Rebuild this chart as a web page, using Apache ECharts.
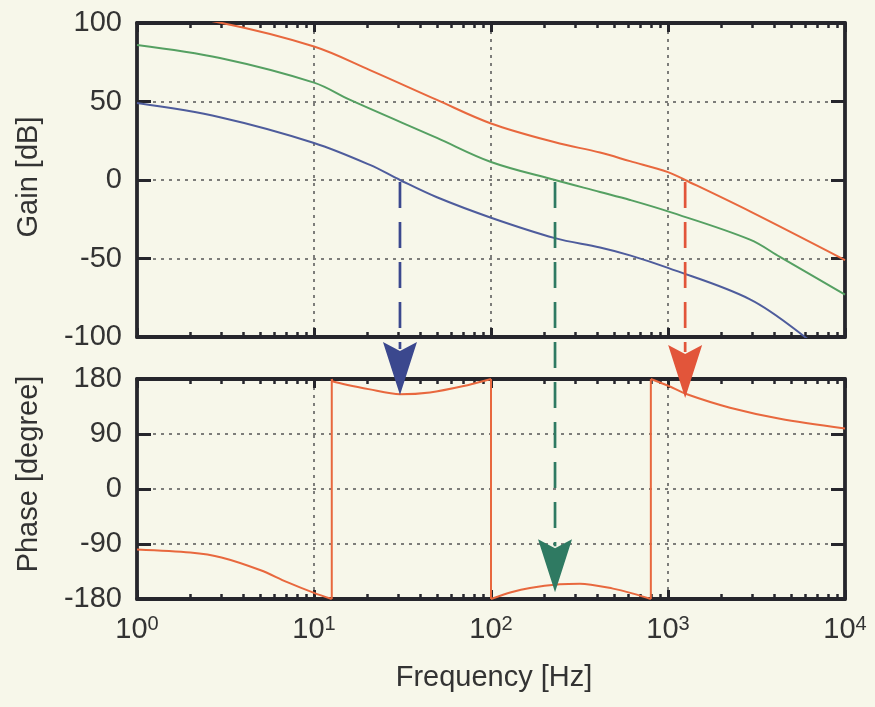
<!DOCTYPE html>
<html>
<head>
<meta charset="utf-8">
<script src="https://cdn.jsdelivr.net/npm/echarts@6/dist/echarts.min.js"></script>
<style>
html, body { margin: 0; padding: 0; background: #f7f7ea; }
#chart { width: 875px; height: 707px; }
</style>
</head>
<body>
<div id="chart"></div>
<script>
// gain curves [dB]
var redFreq   = [1, 3.02, 10, 20.7, 49.5, 100, 230, 413, 610, 1000, 1250, 2905, 10000];
var redGain   = [108, 100, 85, 70, 51, 36, 24, 17.5, 12, 5, 0, -20, -51];
var greenFreq = [1, 2.94, 10, 16, 49.5, 100, 230, 413, 610, 1000, 2905, 4290, 10000];
var greenGain = [86, 77.7, 62, 51, 26.8, 11.5, 0, -7.6, -12.7, -20, -38, -49, -73];
var blueFreq  = [1, 2.94, 10, 20.7, 30.6, 49.5, 100, 230, 413, 610, 1000, 2905, 5790, 10000];
var blueGain  = [49, 40, 23.6, 9.6, 0, -11, -24, -37, -43, -48, -56, -76, -99, -122];

// phase of the red curve [degree], wraps at +-180
var phaseFreq = [1, 2, 3, 5, 7, 10, 12.6, 12.6, 12.8, 20.7, 30.6, 45.2, 69, 100,
                 100, 130, 166, 245, 318, 489, 650, 800,
                 800, 1000, 1280, 2240, 4290, 10000];
var phaseDeg  = [-99, -104, -112, -133, -152, -170, -180, 180, 176, 163, 155, 158, 168, 180,
                 -180, -169, -162, -156, -155, -163, -172, -180,
                 180, 169, 155, 133, 115, 99];

// 0 dB crossings (blue, green, red) and where the arrows end on the phase plot
var crossFreq = [30.6, 230, 1250];
var crossTip  = [154, -169, 149];

var gainTicks  = [-100, -50, 0, 50, 100];
var phaseTicks = [-180, -90, 0, 90, 180];

// minor ticks 2..9 of each decade, in log10 units
var minorTicks = [];
for (var d = 0; d < 4; d++) {
	for (var k = 2; k < 10; k++) minorTicks.push(d + Math.log10(k));
}

var F = "'Liberation Sans', Arial, sans-serif";
var ink = '#26262c';
var curveColor = {red: '#e8683e', green: '#55a062', blue: '#4e5c9c'};
var arrowColor = ['#3b488e', '#2f7a62', '#e2553a'];

var frame = {show: true, onZero: false, lineStyle: {color: ink, width: 3.8}};
var dots = {show: true, lineStyle: {color: '#555', width: 1.5, type: [3, 5]}};
var noLabel = {show: false};

var chart = echarts.init(document.getElementById('chart'));

function g0(){ return {left: 137, top: 23, width: 708, height: 314}; }
function g1(){ return {left: 137, top: 379, width: 708, height: 220}; }

function logX(grid, pos, extra) {
	var ax = {
		type: 'log', logBase: 10, gridIndex: grid, position: pos,
		min: 1, max: 10000, splitNumber: 4,
		axisLine: frame,
		axisTick: {show: true, inside: true, length: 9, lineStyle: {color: ink, width: 3}},
		axisLabel: noLabel, splitLine: {show: false}
	};
	for (var key in extra) ax[key] = extra[key];
	return ax;
}
function minorX(grid, pos) {
	return {
		type: 'value', gridIndex: grid, position: pos, min: 0, max: 4,
		axisLine: {show: false, onZero: false}, axisLabel: noLabel, splitLine: {show: false},
		axisTick: {show: true, inside: true, length: 5, customValues: minorTicks,
			lineStyle: {color: ink, width: 2.5}}
	};
}
function valY(grid, pos, ticks, step, extra) {
	var ax = {
		type: 'value', gridIndex: grid, position: pos,
		min: ticks[0], max: ticks[ticks.length - 1], interval: step,
		axisLine: frame,
		axisTick: {show: true, inside: true, length: 14, lineStyle: {color: ink, width: 3}},
		axisLabel: noLabel, splitLine: {show: false}
	};
	for (var key in extra) ax[key] = extra[key];
	return ax;
}
var yLabel = {show: true, margin: 15, fontSize: 29, color: '#333', fontFamily: F};

function line(name, xs, ys, color, xi, yi, smooth) {
	var data = [];
	for (var i = 0; i < xs.length; i++) data.push([xs[i], ys[i]]);
	return {
		name: name, type: 'line', xAxisIndex: xi, yAxisIndex: yi, data: data,
		showSymbol: false, symbol: 'none', smooth: smooth, clip: true, z: 3,
		lineStyle: {color: color, width: 2}, animation: false
	};
}

var series = [
	line('red', redFreq, redGain, curveColor.red, 0, 0, 0.35),
	line('green', greenFreq, greenGain, curveColor.green, 0, 0, 0.35),
	line('blue', blueFreq, blueGain, curveColor.blue, 0, 0, 0.35)
];

// split the phase at its wraps: smooth pieces + straight vertical jumps
var start = 0;
for (var i = 1; i <= phaseFreq.length; i++) {
	if (i == phaseFreq.length || Math.abs(phaseDeg[i] - phaseDeg[i - 1]) > 300) {
		series.push(line('phase', phaseFreq.slice(start, i), phaseDeg.slice(start, i), curveColor.red, 2, 2, 0.3));
		if (i < phaseFreq.length) {
			series.push(line('wrap', phaseFreq.slice(i - 1, i + 1), phaseDeg.slice(i - 1, i + 1), curveColor.red, 2, 2, false));
		}
		start = i;
	}
}

chart.setOption({
	backgroundColor: '#f7f7ea',
	animation: false,
	grid: [g0(), g1(), g0(), g1()],
	xAxis: [
		logX(0, 'bottom', {splitLine: dots}),
		logX(0, 'top'),
		logX(1, 'bottom', {
			splitLine: dots,
			axisLabel: {
				show: true, margin: 15,
				formatter: function(v){ return '{b|10}{s|' + Math.round(Math.log10(v)) + '}'; },
				rich: {
					b: {fontSize: 29, fontFamily: F, color: '#333', lineHeight: 30, padding: [9, 0, 0, 0], verticalAlign: 'bottom'},
					s: {fontSize: 20, fontFamily: F, color: '#333', lineHeight: 20, verticalAlign: 'top'}
				}
			}
		}),
		logX(1, 'top'),
		minorX(2, 'bottom'),
		minorX(2, 'top'),
		minorX(3, 'bottom'),
		minorX(3, 'top')
	],
	yAxis: [
		valY(0, 'left', gainTicks, 50, {axisLabel: yLabel, splitLine: dots}),
		valY(0, 'right', gainTicks, 50),
		valY(1, 'left', phaseTicks, 90, {axisLabel: yLabel, splitLine: dots}),
		valY(1, 'right', phaseTicks, 90),
		{type: 'value', gridIndex: 2, show: false, axisLine: {onZero: false}},
		{type: 'value', gridIndex: 3, show: false, axisLine: {onZero: false}}
	],
	series: series
});

// titles and the crossover arrows
var graphics = [
	{type: 'text', x: 29, y: 177, rotation: Math.PI / 2,
		style: {text: 'Gain [dB]', fontSize: 29, fontFamily: F, fill: '#333', align: 'center', verticalAlign: 'middle'}},
	{type: 'text', x: 29, y: 474, rotation: Math.PI / 2,
		style: {text: 'Phase [degree]', fontSize: 29, fontFamily: F, fill: '#333', align: 'center', verticalAlign: 'middle'}},
	{type: 'text', x: 494, y: 678,
		style: {text: 'Frequency [Hz]', fontSize: 29, fontFamily: F, fill: '#333', align: 'center', verticalAlign: 'middle'}}
];
for (var j = 0; j < crossFreq.length; j++) {
	var px = chart.convertToPixel({xAxisIndex: 2}, crossFreq[j]);
	var y0 = chart.convertToPixel({yAxisIndex: 0}, 0);
	var yTip = chart.convertToPixel({yAxisIndex: 2}, crossTip[j]);
	graphics.push({
		type: 'polyline', z: 100,
		shape: {points: [[px, y0 + 2], [px, yTip - 46]]},
		style: {stroke: arrowColor[j], fill: null, lineWidth: 2.7, lineDash: [26, 14]}
	});
	graphics.push({
		type: 'polygon', z: 101,
		shape: {points: [[px, yTip], [px - 17, yTip - 53], [px, yTip - 44], [px + 17, yTip - 53]]},
		style: {fill: arrowColor[j]}
	});
}
chart.setOption({graphic: graphics});
</script>
</body>
</html>
